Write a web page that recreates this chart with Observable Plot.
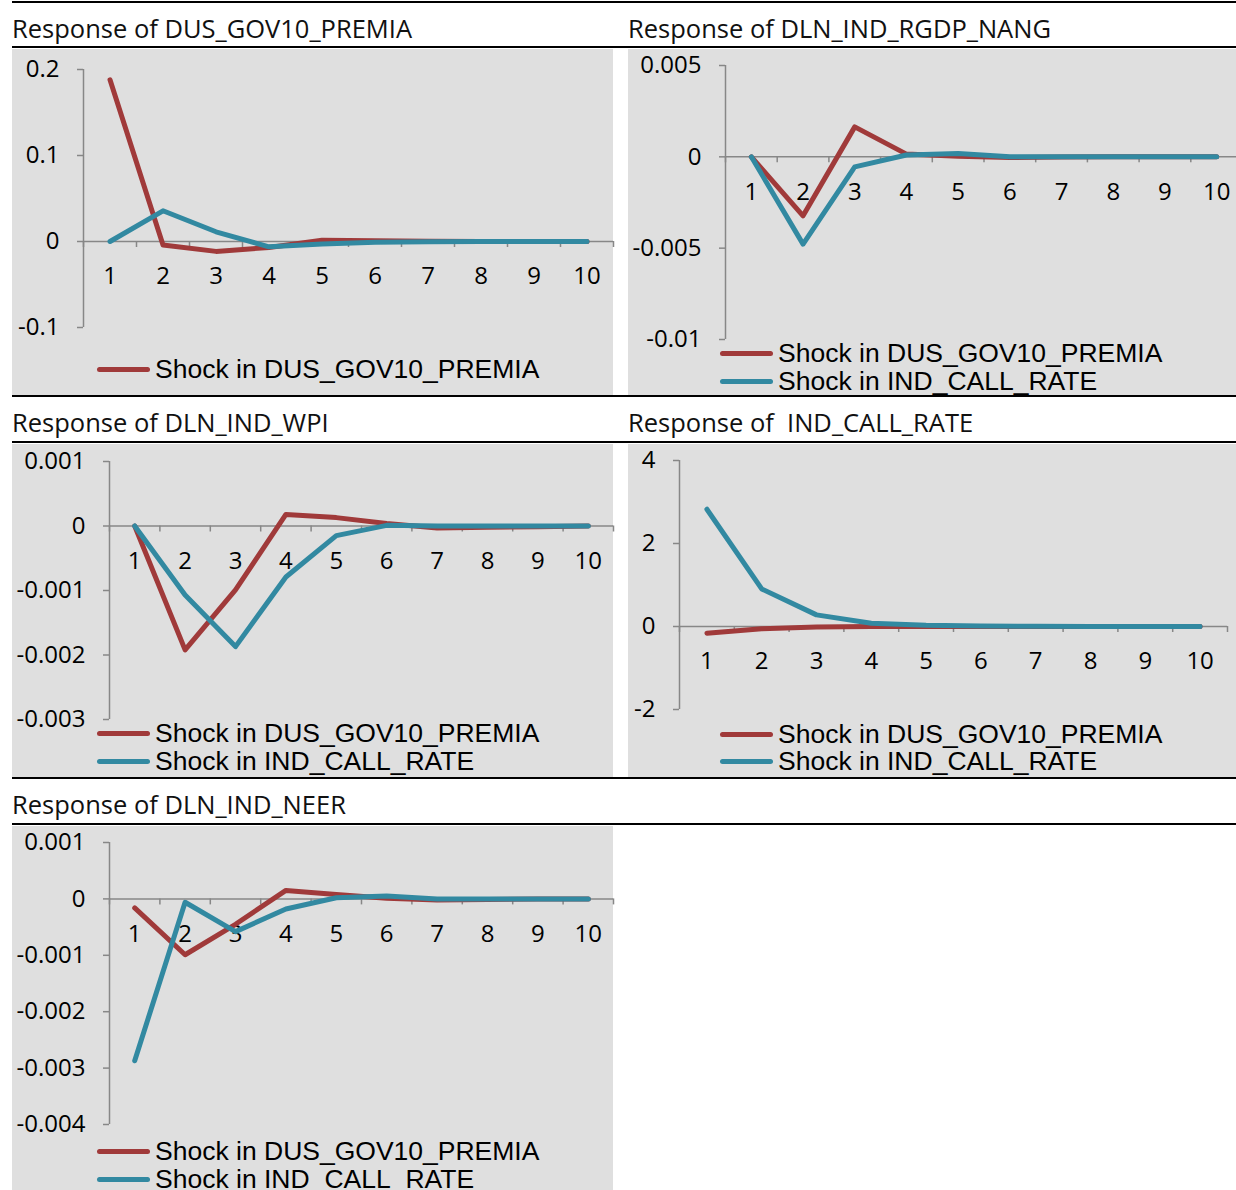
<!DOCTYPE html>
<html>
<head>
<meta charset="utf-8">
<script src="https://cdn.jsdelivr.net/npm/d3@7"></script>
<script src="https://cdn.jsdelivr.net/npm/@observablehq/plot@0.6"></script>
<style>
  html, body { margin: 0; padding: 0; background: #fff; }
  #root { position: relative; width: 1236px; height: 1190px; overflow: hidden; background: #fff; font-family: "Open Sans", sans-serif; }
  .hline { position: absolute; height: 2px; background: #000; }
  .title { position: absolute; font-family: "Open Sans", sans-serif; font-size: 25.5px; line-height: 30px; color: #111; white-space: pre; }
  .panel { position: absolute; background: #dfdfdf; overflow: visible; }
  .panel svg { position: absolute; left: 0; top: 0; overflow: visible; max-width: none !important; }
  .leg { position: absolute; display: flex; align-items: center; height: 28px; }
  .leg .sw { width: 53px; height: 5px; border-radius: 3px; margin-right: 5px; }
  .leg .tx { font-family: "Liberation Sans", Arial, sans-serif; font-size: 26.5px; color: #000; white-space: pre; }
</style>
</head>
<body>
<div id="root"></div>
<script>
// ---------- data ----------
const periods = [1, 2, 3, 4, 5, 6, 7, 8, 9, 10];
const seriesNames = ["Shock in DUS_GOV10_PREMIA", "Shock in IND_CALL_RATE"];
const seriesColors = ["#a03a3a", "#3289a1"];

const titles = [
  "Response of DUS_GOV10_PREMIA",
  "Response of DLN_IND_RGDP_NANG",
  "Response of DLN_IND_WPI",
  "Response of  IND_CALL_RATE",
  "Response of DLN_IND_NEER"
];

// responses (red = shock in DUS_GOV10_PREMIA, blue = shock in IND_CALL_RATE)
const govRed   = [0.188, -0.004, -0.0115, -0.007, 0.0015, 0.001, 0.0003, 0, 0, 0];
const govBlue  = [0, 0.0357, 0.0113, -0.0062, -0.003, -0.001, -0.0003, 0, 0, 0];
const gdpRed   = [0, -0.00323, 0.00164, 0.00015, 0.00003, -0.00004, -0.00001, 0, 0, 0];
const gdpBlue  = [0, -0.00478, -0.00055, 0.0001, 0.00018, 0.00001, 0, 0, 0, 0];
const wpiRed   = [0, -0.00192, -0.00099, 0.00018, 0.00013, 0.00004, -0.00003, -0.00002, -0.00001, 0];
const wpiBlue  = [0, -0.00107, -0.00187, -0.00079, -0.00015, 0.00001, 0, 0, 0, 0];
const callRed  = [-0.16, -0.055, -0.01, 0, 0, 0, 0, 0, 0, 0];
const callBlue = [2.826, 0.905, 0.28, 0.08, 0.03, 0.012, 0.005, 0.002, 0.001, 0];
const neerRed  = [-0.00016, -0.00099, -0.00045, 0.00015, 0.00008, 0.00001, -0.00002, -0.00001, 0, 0];
const neerBlue = [-0.00287, -0.00006, -0.00058, -0.00018, 0.00002, 0.00005, 0, 0, 0, 0];

// y tick values and labels
const govTicks  = [-0.1, 0, 0.1, 0.2];
const govLabels = ["-0.1", "0", "0.1", "0.2"];
const gdpTicks  = [-0.01, -0.005, 0, 0.005];
const gdpLabels = ["-0.01", "-0.005", "0", "0.005"];
const wpiTicks  = [-0.003, -0.002, -0.001, 0, 0.001];
const wpiLabels = ["-0.003", "-0.002", "-0.001", "0", "0.001"];
const callTicks  = [-2, 0, 2, 4];
const callLabels = ["-2", "0", "2", "4"];
const neerTicks  = [-0.004, -0.003, -0.002, -0.001, 0, 0.001];
const neerLabels = ["-0.004", "-0.003", "-0.002", "-0.001", "0", "0.001"];

// ---------- layout ----------
const root = document.getElementById("root");
function hline(x, y, w) {
  const d = document.createElement("div");
  d.className = "hline";
  Object.assign(d.style, {left: x + "px", top: y + "px", width: w + "px"});
  root.appendChild(d);
}
function title(text, x, yc) {
  const d = document.createElement("div");
  d.className = "title";
  d.textContent = text;
  Object.assign(d.style, {left: x + "px", top: (yc - 15) + "px"});
  root.appendChild(d);
}

title(titles[0], 12, 28);
title(titles[1], 628, 28);
title(titles[2], 12, 422);
title(titles[3], 628, 422);
title(titles[4], 12, 804);

function panel(cfg) {
  const box = document.createElement("div");
  box.className = "panel";
  Object.assign(box.style, {left: cfg.left + "px", top: cfg.top + "px", width: cfg.w + "px", height: cfg.h + "px"});
  root.appendChild(box);

  const [ymin, ymax] = cfg.domain;
  const innerH = cfg.h - cfg.mt - cfg.mb;
  const tickLen = 6 * (ymax - ymin) / innerH;
  const bounds = d3.range(0.5, 11, 1);
  const axisColor = "#878787";

  const rows = [];
  cfg.series.forEach((vals, si) => {
    vals.forEach((v, i) => rows.push({period: periods[i], value: v, s: si}));
  });

  const marks = [
    Plot.ruleY([0], {x1: 0.5, x2: 10.5, stroke: axisColor, strokeWidth: 1.5}),
    Plot.ruleX(bounds, {x: d => d, y1: 0, y2: -tickLen, stroke: axisColor, strokeWidth: 1.5}),
    Plot.ruleX([0.5], {y1: ymin, y2: ymax, stroke: axisColor, strokeWidth: 1.5}),
    Plot.axisY(cfg.ticks, {
      anchor: "left", tickSize: 6, tickPadding: 18, stroke: axisColor, strokeWidth: 1.5,
      tickFormat: (d) => cfg.labels[cfg.ticks.indexOf(d)], fontSize: 24, fill: "#000", label: null
    }),
    Plot.text(periods, {x: d => d, y: 0, dy: 35, text: d => String(d), fontSize: 24, fill: "#000"})
  ];
  cfg.series.forEach((vals, si) => {
    marks.push(Plot.line(rows.filter(r => r.s === si), {
      x: "period", y: "value", stroke: seriesColors[si], strokeWidth: 5,
      strokeLinecap: "round", strokeLinejoin: "round"
    }));
  });

  const chart = Plot.plot({
    width: cfg.svgW, height: cfg.h,
    marginLeft: cfg.ml, marginRight: cfg.mr, marginTop: cfg.mt, marginBottom: cfg.mb,
    x: {domain: [0.5, 10.5], axis: null},
    y: {domain: cfg.domain, axis: null},
    style: {fontFamily: "Open Sans, sans-serif", fontSize: "24px", color: "#000", background: "transparent", overflow: "visible", maxWidth: "none"},
    marks
  });
  chart.style.maxWidth = "none";
  box.appendChild(chart);

  cfg.legend.forEach((si, k) => {
    const lg = document.createElement("div");
    lg.className = "leg";
    Object.assign(lg.style, {left: (cfg.legX - cfg.left) + "px", top: (cfg.legY[k] - cfg.top - 14) + "px"});
    const sw = document.createElement("div");
    sw.className = "sw";
    sw.style.background = seriesColors[si];
    const tx = document.createElement("div");
    tx.className = "tx";
    tx.textContent = seriesNames[si];
    lg.appendChild(sw); lg.appendChild(tx);
    box.appendChild(lg);
  });
}

panel({left: 12, top: 49, w: 601, h: 346, svgW: 601, ml: 71, mr: 0, mt: 20, mb: 68,
  domain: [-0.1, 0.2], ticks: govTicks, labels: govLabels, series: [govRed, govBlue],
  legend: [0], legX: 97, legY: [369]});
panel({left: 628, top: 49, w: 608, h: 346, svgW: 614, ml: 97, mr: 0, mt: 16, mb: 56,
  domain: [-0.01, 0.005], ticks: gdpTicks, labels: gdpLabels, series: [gdpRed, gdpBlue],
  legend: [0, 1], legX: 720, legY: [353, 381]});
panel({left: 12, top: 444, w: 601, h: 333, svgW: 601, ml: 97, mr: 0, mt: 17, mb: 58,
  domain: [-0.003, 0.001], ticks: wpiTicks, labels: wpiLabels, series: [wpiRed, wpiBlue],
  legend: [0, 1], legX: 97, legY: [733, 761]});
panel({left: 628, top: 444, w: 608, h: 333, svgW: 608, ml: 51, mr: 9, mt: 16, mb: 68,
  domain: [-2, 4], ticks: callTicks, labels: callLabels, series: [callRed, callBlue],
  legend: [0, 1], legX: 720, legY: [734, 761]});
panel({left: 12, top: 826, w: 601, h: 364, svgW: 601, ml: 97, mr: 0, mt: 16, mb: 66,
  domain: [-0.004, 0.001], ticks: neerTicks, labels: neerLabels, series: [neerRed, neerBlue],
  legend: [0, 1], legX: 97, legY: [1151, 1179]});

// table rules drawn last so they sit above the panels' overflow
hline(12, 1, 1224);
hline(12, 46, 1224);
hline(12, 395, 1224);
hline(12, 441, 1224);
hline(12, 777, 1224);
hline(12, 823, 1224);
</script>
</body>
</html>
